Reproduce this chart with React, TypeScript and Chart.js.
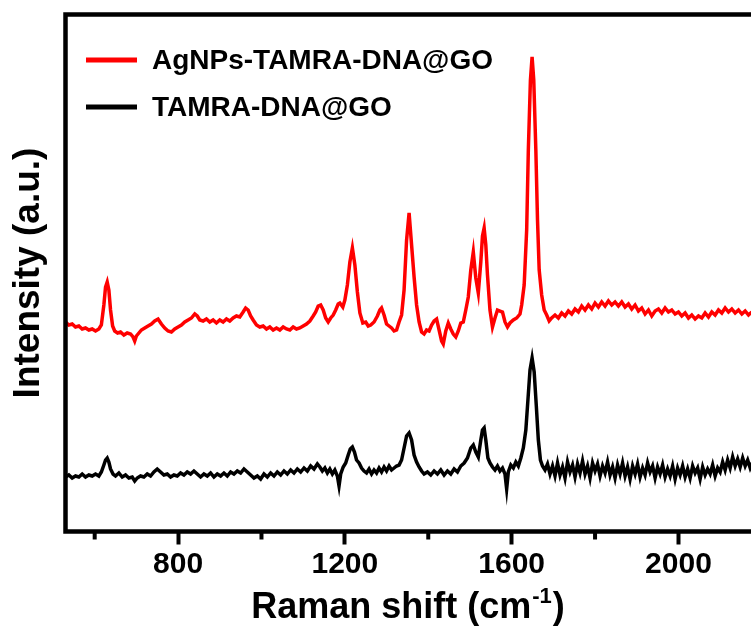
import React, { useEffect, useRef } from "react";
import { Chart, registerables } from "chart.js";

Chart.register(...registerables);

const FONT = '"Liberation Sans", Arial, Helvetica, sans-serif';

// [Raman shift (cm-1), intensity (a.u.)]
const agSpectrum: [number, number][] = [
  [530, 278], [538, 275], [546, 276], [554, 273], [562, 274], [570, 271], [578, 272], [586, 270],
  [594, 271], [602, 269], [610, 271], [616, 275], [622, 295], [626, 313], [630, 318], [634, 310],
  [638, 290], [643, 274], [648, 269], [655, 267], [662, 268], [670, 265], [678, 267], [686, 266],
  [692, 263], [696, 259], [700, 264], [706, 267], [712, 270], [720, 272], [728, 274], [736, 276],
  [744, 279], [752, 281], [760, 276], [768, 272], [776, 269], [784, 268], [792, 271], [800, 273],
  [808, 275], [816, 278], [824, 280], [832, 282], [840, 286], [846, 284], [852, 280], [860, 279],
  [868, 281], [876, 278], [884, 280], [892, 277], [900, 280], [908, 278], [916, 281], [924, 279],
  [932, 282], [940, 284], [948, 283], [956, 288], [962, 292], [968, 290], [974, 284], [980, 280],
  [988, 275], [996, 273], [1004, 274], [1012, 271], [1020, 273], [1028, 270], [1036, 272], [1044, 270],
  [1052, 273], [1060, 271], [1068, 270], [1076, 273], [1084, 271], [1092, 272], [1100, 274], [1108, 276],
  [1116, 279], [1124, 284], [1130, 288], [1136, 294], [1142, 295], [1148, 290], [1154, 282], [1160, 278],
  [1166, 282], [1172, 285], [1178, 290], [1184, 296], [1188, 297], [1195, 293], [1200, 300], [1206, 315],
  [1212, 338], [1218, 352], [1224, 335], [1230, 308], [1236, 287], [1243, 277], [1250, 278], [1256, 274],
  [1262, 275], [1270, 278], [1278, 284], [1284, 290], [1288, 292], [1294, 285], [1300, 276], [1306, 274],
  [1312, 272], [1318, 269], [1324, 270], [1330, 278], [1336, 285], [1342, 310], [1348, 360], [1354, 387],
  [1360, 355], [1366, 323], [1372, 295], [1378, 278], [1384, 268], [1390, 266], [1396, 270], [1402, 269],
  [1408, 275], [1414, 279], [1420, 281], [1426, 270], [1432, 259], [1436, 256], [1442, 269], [1448, 277],
  [1454, 271], [1460, 266], [1466, 263], [1472, 269], [1478, 277], [1484, 278], [1490, 290], [1496, 303],
  [1502, 330], [1508, 348], [1514, 322], [1520, 307], [1526, 338], [1530, 364], [1534, 372], [1538, 355],
  [1542, 325], [1548, 290], [1554, 273], [1560, 282], [1566, 290], [1572, 289], [1578, 288], [1584, 278],
  [1590, 273], [1596, 277], [1604, 280], [1612, 282], [1620, 286], [1624, 295], [1630, 315], [1636, 370],
  [1640, 450], [1645, 520], [1649, 543], [1653, 520], [1658, 450], [1662, 380], [1666, 330], [1672, 305],
  [1678, 290], [1684, 285], [1690, 279], [1696, 282], [1704, 285], [1712, 282], [1720, 287], [1728, 284],
  [1736, 289], [1744, 286], [1752, 291], [1760, 288], [1768, 294], [1776, 290], [1784, 295], [1792, 291],
  [1800, 297], [1808, 293], [1816, 298], [1824, 294], [1832, 299], [1840, 295], [1848, 298], [1856, 294],
  [1864, 298], [1872, 293], [1880, 296], [1888, 291], [1896, 295], [1904, 289], [1912, 292], [1920, 286],
  [1928, 290], [1936, 284], [1944, 289], [1952, 291], [1960, 287], [1968, 292], [1976, 288], [1984, 290],
  [1992, 286], [2000, 288], [2008, 284], [2016, 287], [2024, 282], [2032, 285], [2040, 281], [2048, 284],
  [2056, 282], [2064, 287], [2072, 283], [2080, 288], [2088, 285], [2096, 290], [2104, 287], [2112, 292],
  [2120, 288], [2128, 291], [2136, 287], [2144, 290], [2152, 286], [2160, 289], [2168, 285], [2176, 288],
];

const dnaSpectrum: [number, number][] = [
  [530, 123], [538, 125], [546, 122], [554, 124], [562, 123], [570, 126], [578, 123], [586, 125],
  [594, 124], [602, 126], [610, 124], [616, 128], [622, 135], [626, 140], [630, 142], [634, 138],
  [638, 131], [644, 126], [650, 124], [658, 127], [666, 123], [674, 125], [682, 122], [690, 123],
  [696, 119], [702, 122], [710, 124], [718, 123], [726, 126], [734, 124], [742, 128], [750, 131],
  [758, 128], [766, 125], [774, 126], [782, 123], [790, 125], [798, 124], [806, 127], [814, 125],
  [822, 128], [830, 126], [838, 129], [846, 126], [854, 123], [862, 126], [870, 124], [878, 127],
  [886, 123], [894, 126], [902, 124], [910, 127], [918, 124], [926, 128], [934, 126], [942, 129],
  [950, 127], [958, 131], [966, 128], [974, 125], [982, 122], [990, 124], [998, 121], [1006, 126],
  [1014, 123], [1022, 127], [1030, 124], [1038, 128], [1046, 125], [1054, 129], [1062, 126], [1070, 130],
  [1078, 127], [1086, 131], [1094, 128], [1102, 132], [1110, 129], [1118, 134], [1126, 131], [1134, 136],
  [1140, 133], [1146, 129], [1152, 132], [1158, 127], [1164, 131], [1170, 126], [1176, 130], [1182, 124],
  [1186, 114], [1190, 126], [1196, 133], [1202, 137], [1208, 145], [1213, 151], [1218, 153], [1223, 148],
  [1228, 140], [1234, 137], [1240, 132], [1246, 129], [1252, 127], [1258, 131], [1264, 126], [1270, 130],
  [1276, 127], [1282, 132], [1288, 128], [1294, 133], [1300, 129], [1306, 134], [1312, 130], [1318, 132],
  [1324, 134], [1330, 135], [1336, 140], [1342, 152], [1348, 164], [1354, 167], [1360, 160], [1366, 145],
  [1372, 138], [1378, 133], [1384, 129], [1390, 126], [1398, 128], [1406, 125], [1414, 129], [1422, 126],
  [1430, 130], [1438, 125], [1446, 129], [1454, 126], [1462, 131], [1470, 128], [1478, 134], [1486, 137],
  [1494, 142], [1502, 152], [1508, 155], [1514, 148], [1520, 143], [1526, 160], [1530, 170], [1534, 172],
  [1538, 160], [1543, 142], [1548, 137], [1554, 133], [1560, 130], [1566, 134], [1572, 129], [1578, 132],
  [1584, 126], [1588, 111], [1592, 128], [1598, 135], [1604, 132], [1610, 138], [1616, 134], [1622, 142],
  [1628, 152], [1634, 170], [1639, 200], [1644, 230], [1649, 242], [1654, 228], [1659, 195], [1664, 160],
  [1669, 140], [1674, 134], [1680, 130], [1686, 136], [1692, 126], [1698, 134], [1704, 124], [1710, 137],
  [1716, 125], [1722, 133], [1728, 122], [1734, 138], [1740, 128], [1746, 135], [1752, 123], [1758, 136],
  [1764, 127], [1770, 139], [1776, 126], [1782, 134], [1788, 122], [1794, 137], [1800, 129], [1806, 136],
  [1812, 124], [1818, 134], [1824, 127], [1830, 138], [1836, 125], [1842, 133], [1848, 122], [1854, 135],
  [1860, 126], [1866, 137], [1872, 124], [1878, 133], [1884, 121], [1890, 134], [1896, 126], [1902, 136],
  [1908, 123], [1914, 132], [1920, 125], [1926, 137], [1932, 128], [1938, 134], [1944, 122], [1950, 133],
  [1956, 126], [1962, 135], [1968, 123], [1974, 131], [1980, 124], [1986, 134], [1992, 121], [1998, 132],
  [2004, 125], [2010, 134], [2016, 123], [2022, 131], [2028, 122], [2034, 134], [2040, 127], [2046, 132],
  [2052, 121], [2058, 133], [2064, 125], [2070, 131], [2076, 126], [2082, 135], [2088, 124], [2094, 132],
  [2100, 128], [2106, 138], [2112, 130], [2118, 140], [2124, 132], [2130, 143], [2136, 134], [2142, 141],
  [2148, 133], [2154, 142], [2160, 134], [2166, 140], [2172, 132], [2178, 138],
];

const seriesNames = ["AgNPs-TAMRA-DNA@GO", "TAMRA-DNA@GO"];
const seriesColors = ["#ff0000", "#000000"];
const xMin = 530;
const xMax = 2174;
const yMin = 68.5;
const yMax = 585.5;
const xMajorTicks = [800, 1200, 1600, 2000];
const xMinorTicks = [600, 1000, 1400, 1800];
const xTitleMain = "Raman shift (cm";
const xTitleSup = "-1";
const xTitleEnd = ")";
const yTitle = "Intensity (a.u.)";

const decorPlugin = {
  id: "decor",
  afterDraw(chart: any) {
    const { ctx, chartArea, scales } = chart;
    const xs = scales.x;
    ctx.save();
    // minor ticks
    ctx.strokeStyle = "#000";
    ctx.lineWidth = 4;
    ctx.lineCap = "butt";
    for (const v of xMinorTicks) {
      const px = xs.getPixelForValue(v);
      ctx.beginPath();
      ctx.moveTo(px, chartArea.bottom);
      ctx.lineTo(px, chartArea.bottom + 8);
      ctx.stroke();
    }
    // frame (left, top, bottom)
    ctx.lineWidth = 4.5;
    ctx.lineJoin = "miter";
    ctx.beginPath();
    ctx.moveTo(chart.width + 10, chartArea.top);
    ctx.lineTo(chartArea.left, chartArea.top);
    ctx.lineTo(chartArea.left, chartArea.bottom);
    ctx.lineTo(chart.width + 10, chartArea.bottom);
    ctx.stroke();

    // legend
    const legendY = [60, 107];
    ctx.font = `bold 28px ${FONT}`;
    ctx.textBaseline = "middle";
    ctx.textAlign = "left";
    seriesNames.forEach((name, i) => {
      ctx.strokeStyle = seriesColors[i];
      ctx.lineWidth = 5;
      ctx.beginPath();
      ctx.moveTo(86, legendY[i]);
      ctx.lineTo(137, legendY[i]);
      ctx.stroke();
      ctx.fillStyle = "#000";
      ctx.fillText(name, 152, legendY[i] + 1);
    });

    // x title with superscript
    ctx.fillStyle = "#000";
    ctx.textBaseline = "alphabetic";
    const mainFont = `bold 36px ${FONT}`;
    const supFont = `bold 22px ${FONT}`;
    ctx.font = mainFont;
    const w1 = ctx.measureText(xTitleMain).width;
    const w3 = ctx.measureText(xTitleEnd).width;
    ctx.font = supFont;
    const w2 = ctx.measureText(xTitleSup).width;
    const cx = 407;
    const x0 = cx - (w1 + w2 + w3) / 2;
    const base = 618;
    ctx.font = mainFont;
    ctx.fillText(xTitleMain, x0, base);
    ctx.font = supFont;
    ctx.fillText(xTitleSup, x0 + w1 + 1, base - 15);
    ctx.font = mainFont;
    ctx.fillText(xTitleEnd, x0 + w1 + w2 + 2, base);

    // y title
    ctx.save();
    ctx.translate(39, 273);
    ctx.rotate(-Math.PI / 2);
    ctx.font = `bold 37px ${FONT}`;
    ctx.textAlign = "center";
    ctx.textBaseline = "alphabetic";
    ctx.fillText(yTitle, 0, 0);
    ctx.restore();

    ctx.restore();
  },
};

export default function App() {
  const ref = useRef<HTMLCanvasElement | null>(null);
  useEffect(() => {
    const canvas = ref.current;
    if (!canvas) return;
    const chart = new Chart(canvas, {
      type: "line",
      data: {
        datasets: [
          {
            label: seriesNames[0],
            data: agSpectrum.map(([x, y]) => ({ x, y })),
            borderColor: seriesColors[0],
            backgroundColor: seriesColors[0],
            borderWidth: 3.5,
            pointRadius: 0,
            tension: 0,
            fill: false,
          },
          {
            label: seriesNames[1],
            data: dnaSpectrum.map(([x, y]) => ({ x, y })),
            borderColor: seriesColors[1],
            backgroundColor: seriesColors[1],
            borderWidth: 3.5,
            pointRadius: 0,
            tension: 0,
            fill: false,
          },
        ],
      },
      options: {
        responsive: false,
        animation: false,
        devicePixelRatio: 1,
        layout: { padding: { top: 14.5, right: 0, left: 0, bottom: 0 } },
        plugins: { legend: { display: false }, tooltip: { enabled: false } },
        scales: {
          x: {
            type: "linear",
            position: "bottom",
            min: xMin,
            max: xMax,
            afterBuildTicks: (s: any) => {
              s.ticks = xMajorTicks.map((value) => ({ value }));
            },
            afterFit: (s: any) => {
              s.height = 101.5;
            },
            border: { display: false },
            grid: {
              display: true,
              drawOnChartArea: false,
              drawTicks: true,
              tickLength: 13,
              tickWidth: 4,
              tickColor: "#000",
              color: "#000",
            },
            ticks: {
              autoSkip: false,
              maxRotation: 0,
              color: "#000",
              padding: 2,
              font: { family: FONT, size: 30, weight: "bold" },
              callback: (v: any) => String(v),
            },
          },
          y: {
            type: "linear",
            min: yMin,
            max: yMax,
            afterFit: (s: any) => {
              s.width = 65.5;
            },
            border: { display: false },
            grid: { display: false },
            ticks: { display: false },
          },
        },
      },
      plugins: [decorPlugin],
    } as any);
    return () => chart.destroy();
  }, []);
  return (
    <div style={{ position: "absolute", left: 0, top: 0, background: "#fff" }}>
      <canvas ref={ref} width={751} height={633} style={{ display: "block" }} />
    </div>
  );
}
